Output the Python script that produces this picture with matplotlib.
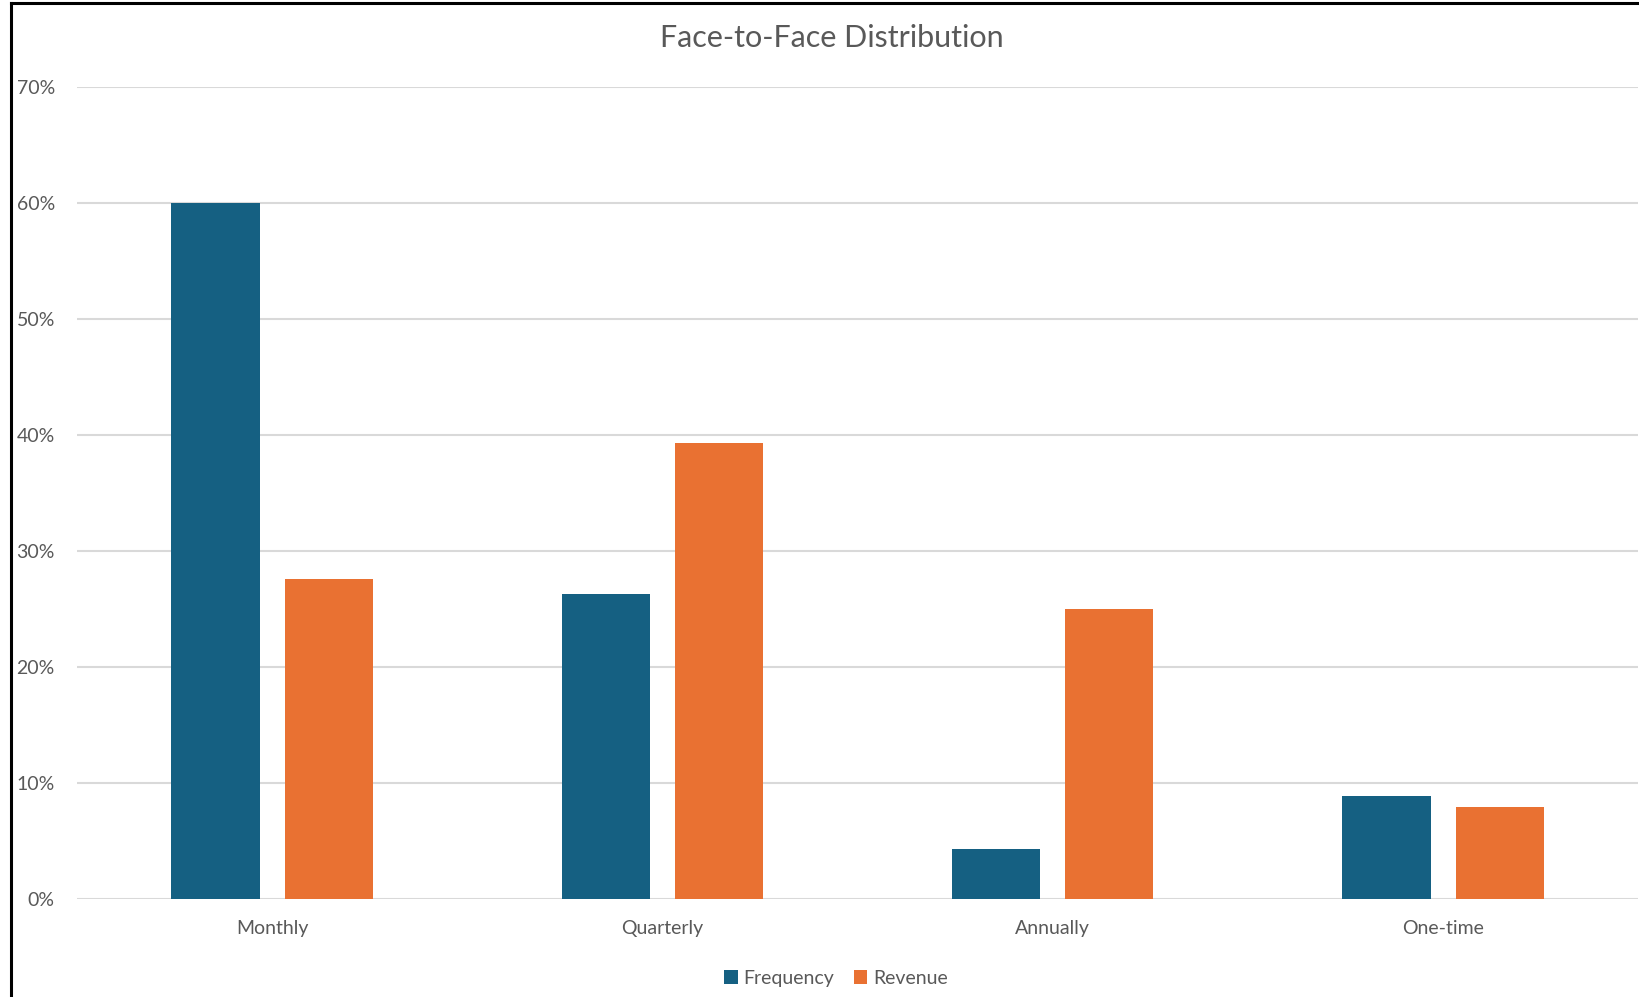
import numpy as np
import matplotlib.pyplot as plt
from matplotlib.lines import Line2D

#-- data
categories = ['Monthly', 'Quarterly', 'Annually', 'One-time']
frequency  = [0.600, 0.263, 0.043, 0.089]
revenue    = [0.276, 0.393, 0.250, 0.079]
yticks     = [0.0, 0.1, 0.2, 0.3, 0.4, 0.5, 0.6, 0.7]

#-- style
blue   = '#156082'
orange = '#E97132'
grey   = '#595959'
plt.rcParams['font.family'] = ['Lato', 'DejaVu Sans']

fig = plt.figure(figsize=(16.39, 9.97), dpi=100)
ax = fig.add_axes([0.047, 0.0983, 0.9525, 0.8148])

x = np.arange(len(categories))
w = 0.226
off = 0.145
ax.bar(x - off, frequency, w, color=blue, label='Frequency', zorder=3)
ax.bar(x + off, revenue, w, color=orange, label='Revenue', zorder=3)

ax.set_xlim(-0.5, len(categories) - 0.5)
ax.set_ylim(0, 0.70)
ax.set_yticks(yticks)
ax.set_yticklabels(['{:.0f}%'.format(v * 100) for v in yticks])
ax.set_xticks(x)
ax.set_xticklabels(categories)
ax.tick_params(axis='y', length=0, pad=16, labelsize=14, labelcolor=grey)
ax.tick_params(axis='x', length=0, pad=15, labelsize=14, labelcolor=grey)
ax.yaxis.grid(True, color='#D9D9D9', linewidth=1.5, zorder=0)
for s in ax.spines.values():
    s.set_visible(False)

#-- title and legend
fig.text(0.5075, 0.962, 'Face-to-Face Distribution', ha='center', va='center',
         fontsize=22, color=grey)
fig.legend(loc='center', bbox_to_anchor=(0.51, 0.019), ncol=2, frameon=False,
           fontsize=14, labelcolor=grey, handlelength=0.7, handleheight=0.7,
           handletextpad=0.3, columnspacing=1.0)

#-- black frame on top and left
fig.add_artist(Line2D([0.0066, 1.0], [0.997, 0.997], color='black', linewidth=2.2,
                      transform=fig.transFigure))
fig.add_artist(Line2D([0.0066, 0.0066], [0.0, 0.997], color='black', linewidth=2.2,
                      transform=fig.transFigure))

plt.savefig('out.png', dpi=100)
